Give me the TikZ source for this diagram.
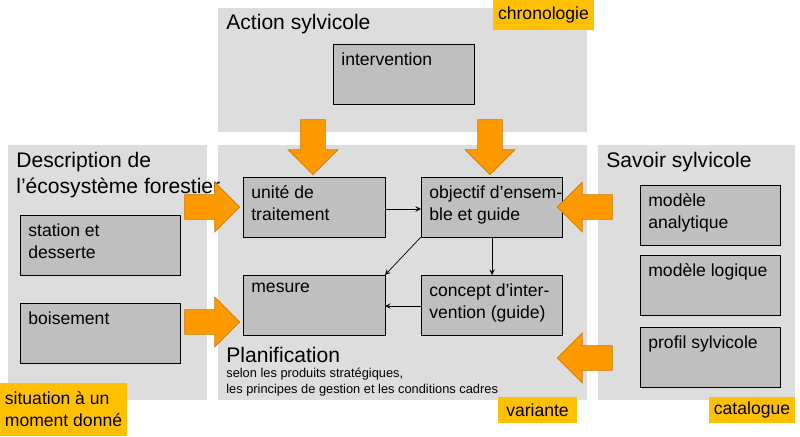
\documentclass[tikz,border=0pt]{standalone}
\usepackage{fontspec}
\setmainfont{Liberation Sans}
\usetikzlibrary{shapes.arrows}
\definecolor{panelgray}{HTML}{DDDDDD}
\definecolor{boxgray}{HTML}{BFBFBF}
\definecolor{tagyellow}{HTML}{FFC000}
\definecolor{arroworange}{HTML}{FF9900}
\begin{document}
\begin{tikzpicture}
	[
		x = 0.02cm, y = -0.02cm,
		panel/.style = {fill=panelgray, draw=none},
		box/.style = {fill=boxgray, draw=black, thin},
		boxtext/.style = {anchor=north west, align=left, font=\fontsize{10}{12.5}\selectfont, inner sep=0pt},
		title/.style = {anchor=north west, align=left, font=\fontsize{12}{15}\selectfont, inner sep=0pt},
		tag/.style = {fill=tagyellow, font=\fontsize{10}{12.5}\selectfont, align=left, inner sep=0pt},
		bigarrow/.style = {single arrow, fill=arroworange, draw=arroworange!80!black, minimum height=1.1cm, inner sep=0.24cm, single arrow head extend=0.25cm, single arrow head indent=0pt},
		link/.style = {->, >=stealth, thin}
	]
	
	\useasboundingbox (0,0) rectangle (800,436);
	
	% panels
	\fill [panel] (218,8) rectangle (587,132);
	\fill [panel] (8,145) rectangle (207,400);
	\fill [panel] (218,145) rectangle (587,400);
	\fill [panel] (598,145) rectangle (795,400);
	
	\node [title] (actT) at (226,14) {Action sylvicole};
	\node [title] (descT) at (16,152) {Description de\\l’écosystème forestier};
	\node [title] (savT) at (606,152) {Savoir sylvicole};
	\node [title] (planT) at (226,347) {Planification};
	\node [anchor=north west, align=left, font=\fontsize{7.3}{9}\selectfont, inner sep=0pt] (planS) at (226,368)
		{selon les produits stratégiques,\\les principes de gestion et les conditions cadres};
	
	% boxes
	\newcommand{\gbox}[6]{\draw [box] (#1,#2) rectangle (#3,#4); \node [boxtext] (#5) at ({#1 + 8}, {#2 + 8}) {#6};}
	
	\gbox{333}{44}{474}{104}{interv}{intervention}
	\gbox{243}{177}{385}{237}{unite}{unité de\\traitement}
	\gbox{421}{177}{562}{237}{objectif}{objectif d’ensem-\\ble et guide}
	\gbox{243}{275}{385}{335}{mesure}{mesure}
	\gbox{421}{275}{562}{335}{concept}{concept d’inter-\\vention (guide)}
	\gbox{20}{215}{180}{275}{station}{station et\\desserte}
	\gbox{20}{303}{180}{363}{boise}{boisement}
	\gbox{640}{185}{780}{245}{analyt}{modèle\\analytique}
	\gbox{640}{255}{780}{315}{logique}{modèle logique}
	\gbox{640}{327}{780}{387}{profil}{profil sylvicole}
	
	\coordinate (uE) at (385,209);
	\coordinate (oW) at (421,209);
	\coordinate (oSW) at (421,237);
	\coordinate (oS) at (492,237);
	\coordinate (mNE) at (385,275);
	\coordinate (cN) at (492,275);
	\coordinate (cW) at (421,306);
	\coordinate (mE) at (385,306);
	\draw [link] (uE) -- (oW);
	\draw [link] (oSW) -- (mNE);
	\draw [link] (oS) -- (cN);
	\draw [link] (cW) -- (mE);
	
	% tags
	\node [tag, minimum width=101*0.02cm, minimum height=30*0.02cm] (chrono) at (543.5,15) {chronologie};
	\node [tag, minimum width=127*0.02cm, minimum height=53*0.02cm] (situ) at (63.5,409.5) {situation à un\\moment donné};
	\node [tag, minimum width=79*0.02cm, minimum height=26*0.02cm] (variante) at (537.5,410) {variante};
	\node [tag, minimum width=86*0.02cm, minimum height=26*0.02cm] (catal) at (752,410) {catalogue};
	
	% block arrows
	\node [bigarrow, rotate=-90] (aDown1) at (313,141) {};
	\node [bigarrow, rotate=-90] (aDown2) at (490,141) {};
	\node [bigarrow] (aRight1) at (206,207) {};
	\node [bigarrow] (aRight2) at (206,322) {};
	\node [bigarrow, rotate=180] (aLeft1) at (591,207) {};
	\node [bigarrow, rotate=180] (aLeft2) at (591,358) {};
\end{tikzpicture}
\end{document}
